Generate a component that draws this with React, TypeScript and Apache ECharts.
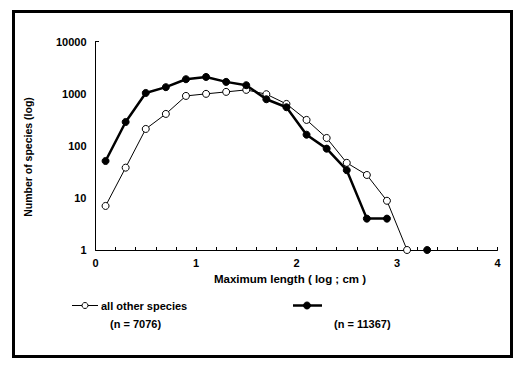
import React, { useEffect, useRef } from "react";
import * as echarts from "echarts";

const xValues = [0.1, 0.3, 0.5, 0.7, 0.9, 1.1, 1.3, 1.5, 1.7, 1.9, 2.1, 2.3, 2.5, 2.7, 2.9, 3.1, 3.3];
const otherSpecies: (number | null)[] = [7, 38, 210, 408, 903, 990, 1080, 1180, 975, 634, 313, 141, 47, 27.5, 8.8, 1, null];
const groupSpecies: (number | null)[] = [51, 286, 1030, 1330, 1890, 2090, 1680, 1450, 780, 548, 163, 88, 34, 4, 4, null, 1];
const yTickLabels = ["1", "10", "100", "1000", "10000"];
const xTickLabels = ["0", "1", "2", "3", "4"];
const seriesNames = ["all other species", ""];
const nLabels = ["(n = 7076)", "(n = 11367)"];
const xAxisTitle = "Maximum length ( log ; cm )";
const yAxisTitle = "Number of species (log)";

const FONT = "'Liberation Sans', Arial, sans-serif";

export default function App() {
  const ref = useRef<HTMLDivElement>(null);
  useEffect(() => {
    if (!ref.current) return;
    const chart = echarts.init(ref.current, undefined, { renderer: "svg" });
    const toPairs = (vals: (number | null)[]) =>
      xValues.map((x, i) => [x, vals[i] == null ? "-" : vals[i]]);
    const txt = { fontFamily: FONT, fontWeight: "bold" as const, fontSize: 11, fill: "#000" };
    chart.setOption({
      animation: false,
      backgroundColor: "#fff",
      grid: { left: 95.5, right: 24.5, top: 41.5, bottom: 119, containLabel: false },
      xAxis: {
        type: "value",
        min: 0,
        max: 4,
        interval: 0.2,
        axisLine: { show: true, lineStyle: { color: "#000", width: 1 } },
        axisTick: { show: true, inside: true, length: 3, lineStyle: { color: "#000" } },
        splitLine: { show: false },
        axisLabel: {
          margin: 7,
          color: "#000",
          fontFamily: FONT,
          fontWeight: "bold",
          fontSize: 11,
          formatter: (v: number) => {
            const r = Math.round(v);
            return Math.abs(v - r) < 1e-6 ? xTickLabels[r] ?? "" : "";
          },
        },
      },
      yAxis: {
        type: "log",
        logBase: 10,
        min: 1,
        max: 10000,
        axisLine: { show: true, lineStyle: { color: "#000", width: 1 } },
        axisTick: { show: false },
        splitLine: { show: false },
        axisLabel: {
          margin: 9,
          color: "#000",
          fontFamily: FONT,
          fontWeight: "bold",
          fontSize: 11,
          formatter: (v: number) => {
            const e = Math.round(Math.log10(v));
            return yTickLabels[e] ?? "";
          },
        },
      },
      series: [
        {
          name: seriesNames[0],
          type: "line",
          data: toPairs(otherSpecies),
          symbol: "circle",
          symbolSize: 7,
          showSymbol: true,
          connectNulls: false,
          lineStyle: { color: "#000", width: 1 },
          itemStyle: { color: "#fff", borderColor: "#000", borderWidth: 1 },
          z: 2,
        },
        {
          name: seriesNames[1],
          type: "line",
          data: toPairs(groupSpecies),
          symbol: "circle",
          symbolSize: 7,
          showSymbol: true,
          connectNulls: false,
          lineStyle: { color: "#000", width: 2.5 },
          itemStyle: { color: "#000", borderColor: "#000", borderWidth: 1 },
          z: 3,
        },
      ],
      graphic: [
        {
          type: "rect",
          shape: { x: 13.5, y: 11.5, width: 498, height: 345 },
          style: { fill: "none", stroke: "#000", lineWidth: 3 },
          silent: true,
        },
        {
          type: "line",
          shape: { x1: 95.5, y1: 41.5, x2: 99, y2: 41.5 },
          style: { stroke: "#000", lineWidth: 1 },
        },
        {
          type: "text",
          x: 290,
          y: 279,
          style: { ...txt, fontSize: 11.5, text: xAxisTitle, align: "center", verticalAlign: "middle" },
        },
        {
          type: "text",
          x: 28,
          y: 157,
          rotation: Math.PI / 2,
          style: { ...txt, fontSize: 10.5, text: yAxisTitle, align: "center", verticalAlign: "middle" },
        },
        {
          type: "line",
          shape: { x1: 72, y1: 305.5, x2: 98, y2: 305.5 },
          style: { stroke: "#000", lineWidth: 1 },
        },
        {
          type: "circle",
          shape: { cx: 85, cy: 305.5, r: 3 },
          style: { fill: "#fff", stroke: "#000", lineWidth: 1 },
        },
        {
          type: "text",
          x: 101,
          y: 305.5,
          style: { ...txt, text: seriesNames[0], align: "left", verticalAlign: "middle" },
        },
        {
          type: "text",
          x: 110,
          y: 324,
          style: { ...txt, text: nLabels[0], align: "left", verticalAlign: "middle" },
        },
        {
          type: "line",
          shape: { x1: 293, y1: 305.5, x2: 322, y2: 305.5 },
          style: { stroke: "#000", lineWidth: 2.5 },
        },
        {
          type: "circle",
          shape: { cx: 307, cy: 305.5, r: 3.5 },
          style: { fill: "#000", stroke: "#000", lineWidth: 1 },
        },
        {
          type: "text",
          x: 334,
          y: 324,
          style: { ...txt, text: nLabels[1], align: "left", verticalAlign: "middle" },
        },
      ],
    });
    return () => chart.dispose();
  }, []);
  return (
    <div
      ref={ref}
      style={{ position: "absolute", left: 0, top: 0, width: 522, height: 369 }}
    />
  );
}
